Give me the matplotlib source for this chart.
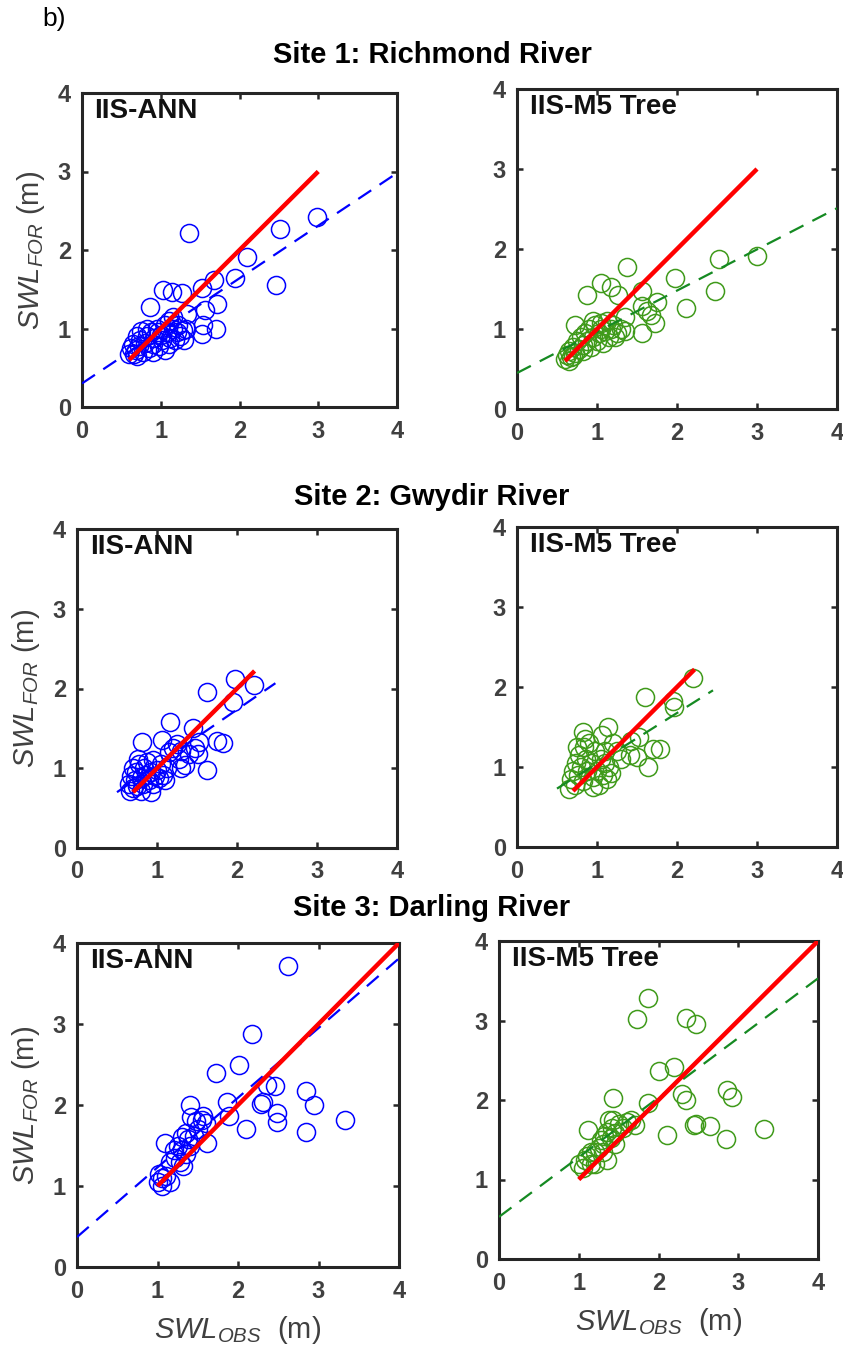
import numpy as np
import matplotlib
matplotlib.use('Agg')
import matplotlib.pyplot as plt

plt.rcParams['font.family'] = ['Liberation Sans', 'DejaVu Sans']
plt.rcParams['mathtext.fontset'] = 'custom'
plt.rcParams['mathtext.it'] = 'Liberation Sans:italic'
plt.rcParams['mathtext.rm'] = 'Liberation Sans'

# ---- data ----
sites = ['Site 1: Richmond River', 'Site 2: Gwydir River', 'Site 3: Darling River']
models = ['IIS-ANN', 'IIS-M5 Tree']
ticks = [0, 1, 2, 3, 4]

rich_ann_x = [1.36, 2.51, 2.98, 2.09, 1.94, 2.46, 1.67, 1.52, 1.03, 1.14, 1.27, 0.86, 1.71,
              1.56, 1.33, 1.54, 1.70, 1.52, 1.16,
              0.60, 0.62, 0.65, 0.68, 0.70, 0.72, 0.74, 0.75, 0.78, 0.80, 0.82, 0.85, 0.88,
              0.90, 0.92, 0.95, 0.98, 1.00, 1.02, 1.05, 1.05, 1.08, 1.10, 1.12, 1.15, 1.18,
              1.20, 1.22, 1.25, 1.28, 1.30, 1.32, 0.66, 0.70, 0.83, 0.96, 1.10, 0.90]
rich_ann_y = [2.22, 2.27, 2.42, 1.91, 1.64, 1.55, 1.62, 1.52, 1.49, 1.47, 1.45, 1.27, 1.31,
              1.24, 1.19, 1.04, 0.99, 0.93, 1.15,
              0.68, 0.75, 0.80, 0.72, 0.65, 0.78, 0.85, 0.97, 0.70, 0.82, 0.90, 0.75, 0.95,
              0.80, 0.88, 1.00, 0.78, 0.92, 0.85, 1.05, 0.72, 0.95, 0.80, 0.88, 1.00, 0.85,
              0.95, 1.05, 0.90, 0.98, 0.85, 1.00, 0.68, 0.90, 1.00, 0.95, 1.10, 0.70]

rich_m5_x = [1.37, 2.52, 3.00, 1.97, 2.47, 2.11, 0.88, 1.05, 1.17, 1.26, 1.56, 1.56, 1.75,
             1.67, 1.72, 1.56, 1.35, 0.73, 1.22, 1.62,
             0.60, 0.62, 0.65, 0.68, 0.70, 0.72, 0.75, 0.78, 0.80, 0.82, 0.85, 0.88, 0.90,
             0.92, 0.95, 0.98, 1.00, 1.02, 1.05, 1.08, 1.10, 1.12, 1.15, 1.18, 1.20, 1.25,
             1.30, 1.35, 0.65, 0.70, 0.82, 0.95, 1.05]
rich_m5_y = [1.78, 1.87, 1.91, 1.64, 1.47, 1.26, 1.42, 1.58, 1.52, 1.42, 1.47, 1.29, 1.34,
             1.17, 1.07, 0.95, 1.15, 1.05, 0.90, 1.22,
             0.62, 0.68, 0.72, 0.65, 0.78, 0.70, 0.85, 0.75, 0.90, 0.80, 0.95, 0.85, 1.00,
             0.78, 0.90, 1.05, 0.85, 0.95, 1.08, 0.82, 0.98, 1.10, 0.90, 1.00, 1.05, 0.95,
             1.00, 0.98, 0.60, 0.66, 0.72, 1.10, 1.00]

gwy_ann_x = [1.975, 2.21, 1.62, 1.95, 1.16, 1.45, 0.81, 1.06, 1.25, 1.52, 1.75, 1.82, 1.51,
             1.62, 1.35, 0.93, 1.20, 1.30, 1.28, 1.40, 1.48, 1.15, 1.30,
             0.65, 0.68, 0.70, 0.72, 0.74, 0.75, 0.78, 0.80, 0.82, 0.84, 0.86, 0.88, 0.90,
             0.92, 0.95, 0.97, 1.00, 1.02, 1.05, 1.08, 1.10, 1.12, 0.70, 0.76, 0.66, 0.80, 0.95]
gwy_ann_y = [2.12, 2.04, 1.95, 1.83, 1.58, 1.50, 1.33, 1.35, 1.31, 1.33, 1.34, 1.32, 1.18,
             0.975, 1.04, 0.70, 1.25, 1.22, 1.12, 1.18, 1.25, 1.20, 1.00,
             0.80, 0.90, 0.75, 0.85, 0.95, 0.78, 1.05, 0.88, 0.80, 1.00, 0.92, 1.08, 0.85,
             0.95, 1.10, 0.90, 0.98, 0.88, 1.05, 0.92, 0.85, 1.00, 1.00, 1.12, 0.72, 0.72, 0.80]

gwy_m5_x = [2.20, 1.60, 1.95, 1.96, 0.83, 1.14, 1.06, 1.52, 1.43, 1.70, 1.79, 1.64, 1.50,
            1.41, 1.25, 1.30, 1.20,
            0.65, 0.68, 0.70, 0.72, 0.74, 0.76, 0.78, 0.80, 0.82, 0.84, 0.86, 0.88, 0.90,
            0.92, 0.95, 0.98, 1.00, 1.02, 1.05, 1.08, 1.10, 1.12, 1.15, 1.18, 0.75, 0.85,
            0.95, 1.10]
gwy_m5_y = [2.11, 1.88, 1.82, 1.75, 1.44, 1.50, 1.40, 1.38, 1.32, 1.22, 1.22, 1.00, 1.13,
            1.15, 1.20, 1.10, 1.30,
            0.72, 0.85, 0.95, 0.78, 1.05, 0.90, 1.15, 1.00, 0.82, 1.25, 1.10, 0.95, 1.30,
            1.05, 0.88, 1.20, 0.95, 0.78, 1.10, 0.90, 1.20, 0.85, 1.00, 0.92, 1.25, 1.35,
            0.75, 1.05]

dar_ann_x = [2.62, 2.18, 2.01, 1.73, 2.46, 2.36, 2.85, 2.94, 2.31, 2.28, 2.48, 2.48, 3.33,
             2.84, 2.10, 1.86, 1.89, 1.40, 1.57, 1.61, 1.09,
             1.42, 1.48, 1.55, 1.60, 1.35, 1.30, 1.38, 1.45, 1.25, 1.30, 1.35, 1.22, 1.28,
             1.32, 1.15, 1.20, 1.05, 1.00, 1.02, 1.15, 1.05, 1.10, 1.40, 1.50]
dar_ann_y = [3.72, 2.88, 2.50, 2.40, 2.23, 2.25, 2.17, 2.00, 2.04, 2.01, 1.90, 1.79, 1.82,
             1.67, 1.70, 2.04, 1.87, 2.00, 1.87, 1.53, 1.53,
             1.85, 1.80, 1.82, 1.78, 1.65, 1.60, 1.58, 1.62, 1.50, 1.45, 1.40, 1.35, 1.30,
             1.25, 1.30, 1.45, 1.10, 1.05, 1.15, 1.05, 1.00, 1.12, 1.50, 1.70]

dar_m5_x = [1.87, 1.73, 2.34, 2.47, 2.01, 2.19, 2.29, 2.34, 2.86, 2.92, 1.43, 1.87, 2.47,
            2.65, 3.32, 2.85, 2.11, 1.12, 2.45, 1.43,
            1.00, 1.05, 1.08, 1.10, 1.15, 1.20, 1.25, 1.28, 1.30, 1.32, 1.35, 1.40, 1.42,
            1.45, 1.50, 1.55, 1.60, 1.65, 1.70, 1.38, 1.30, 1.45, 1.20, 1.15, 1.35]
dar_m5_y = [3.28, 3.02, 3.03, 2.95, 2.36, 2.41, 2.08, 2.00, 2.13, 2.04, 2.02, 1.96, 1.70,
            1.67, 1.64, 1.51, 1.56, 1.62, 1.68, 1.75,
            1.20, 1.15, 1.25, 1.30, 1.20, 1.35, 1.40, 1.50, 1.45, 1.55, 1.60, 1.52, 1.65,
            1.58, 1.70, 1.65, 1.72, 1.75, 1.68, 1.75, 1.35, 1.45, 1.20, 1.35, 1.25]

# 1:1 line extents and fitted (dashed) line: slope, intercept, x range
one_to_one = [(0.6, 3.0), (0.6, 3.0), (0.7, 2.22), (0.7, 2.22), (1.0, 4.0), (1.0, 4.0)]
fit_slope = [0.67, 0.515, 0.69, 0.63, 0.86, 0.75]
fit_icept = [0.30, 0.45, 0.355, 0.415, 0.37, 0.53]
fit_xrange = [(0, 4), (0, 4), (0.5, 2.48), (0.5, 2.45), (0, 4), (0, 4)]

obs = [rich_ann_x, rich_m5_x, gwy_ann_x, gwy_m5_x, dar_ann_x, dar_m5_x]
fore = [rich_ann_y, rich_m5_y, gwy_ann_y, gwy_m5_y, dar_ann_y, dar_m5_y]

# axes rectangles in pixels (left, top, right, bottom) of an 843x1348 canvas
boxes = [(82, 93, 397, 407), (517, 89, 837, 409),
         (77, 529, 397, 848), (517, 527, 837, 847),
         (77, 943, 399, 1267), (499, 941, 818, 1259)]

W, H = 843, 1348
ann_col = '#0000ff'
m5_col = '#3f9a1a'
m5_fit = '#158a22'
frame = '#262626'
ticklab = '#404040'

fig = plt.figure(figsize=(W / 100, H / 100), dpi=100)

for i in range(6):
    l, t, r, b = boxes[i]
    ax = fig.add_axes([l / W, 1 - b / H, (r - l) / W, (b - t) / H])
    is_ann = (i % 2 == 0)
    col = ann_col if is_ann else m5_col
    fcol = ann_col if is_ann else m5_fit

    ax.plot(obs[i], fore[i], 'o', mfc='none', mec=col, ms=13, mew=1.1, zorder=2)

    xf = np.array(fit_xrange[i])
    ax.plot(xf, fit_slope[i] * xf + fit_icept[i], color=fcol, lw=1.6,
            dashes=(7, 4.5), zorder=3)

    a, e = one_to_one[i]
    ax.plot([a, e], [a, e], color='#ff0000', lw=3.2, zorder=4, solid_capstyle='butt')

    ax.set_xlim(0, 4)
    ax.set_ylim(0, 4)
    ax.set_xticks(ticks)
    ax.set_yticks(ticks)
    ax.tick_params(direction='in', top=True, right=True, length=4, width=1.8,
                   color=frame, labelsize=17, labelcolor=ticklab)
    ax.tick_params(axis='x', pad=9)
    ax.tick_params(axis='y', pad=8)
    for lab in ax.get_xticklabels() + ax.get_yticklabels():
        lab.set_fontweight('bold')
    for sp in ax.spines.values():
        sp.set_linewidth(2.2)
        sp.set_color(frame)

    ax.text(0.04, 0.985, models[i % 2], transform=ax.transAxes, ha='left', va='top',
            fontsize=20, fontweight='bold', color='#111111')

    if is_ann:
        ax.set_ylabel(r'$SWL_{FOR}$ (m)', fontsize=21, color=ticklab, labelpad=8)
    if i >= 4:
        ax.set_xlabel(r'$SWL_{OBS}$  (m)', fontsize=21, color=ticklab, labelpad=8)

# site titles
for k, ypx in enumerate([55, 497, 908]):
    fig.text(432 / W, 1 - ypx / H, sites[k], ha='center', va='center',
             fontsize=21, fontweight='bold')

fig.text(42 / W, 1 - 19 / H, 'b)', ha='left', va='center', fontsize=19)

fig.savefig('out.png', dpi=100)
